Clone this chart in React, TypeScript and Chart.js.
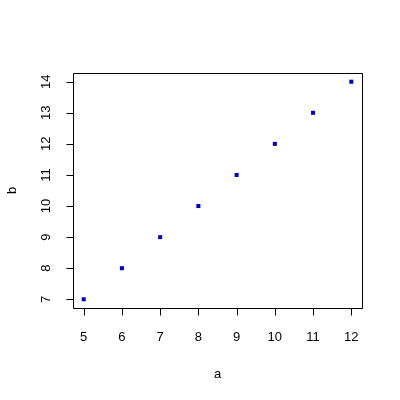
import React, { useEffect, useRef } from "react";
import { Chart, registerables } from "chart.js";

Chart.register(...registerables);

const aValues = [5, 6, 7, 8, 9, 10, 11, 12];
const bValues = [7, 8, 9, 10, 11, 12, 13, 14];
const xTicks = [5, 6, 7, 8, 9, 10, 11, 12];
const yTicks = [7, 8, 9, 10, 11, 12, 13, 14];
const xTitle = "a";
const yTitle = "b";

const FONT = '13px "Liberation Sans", Arial, sans-serif';

const rAxesPlugin = {
  id: "rAxes",
  afterDraw(chart: any) {
    const { ctx, chartArea } = chart;
    const xs = chart.scales.x;
    const ys = chart.scales.y;
    const { left, right, top, bottom } = chartArea;
    const tick = 7;
    ctx.save();
    ctx.strokeStyle = "#000";
    ctx.lineWidth = 1;
    ctx.beginPath();
    ctx.rect(Math.round(left) + 0.5, Math.round(top) + 0.5, Math.round(right - left), Math.round(bottom - top));
    ctx.stroke();
    ctx.fillStyle = "#000";
    ctx.font = FONT;
    // x ticks
    ctx.textAlign = "center";
    ctx.textBaseline = "middle";
    ctx.beginPath();
    for (const v of xTicks) {
      const px = Math.round(xs.getPixelForValue(v)) + 0.5;
      ctx.moveTo(px, Math.round(bottom) + 0.5);
      ctx.lineTo(px, Math.round(bottom) + 0.5 + tick);
    }
    for (const v of yTicks) {
      const py = Math.round(ys.getPixelForValue(v)) + 0.5;
      ctx.moveTo(Math.round(left) + 0.5, py);
      ctx.lineTo(Math.round(left) + 0.5 - tick, py);
    }
    ctx.stroke();
    for (const v of xTicks) {
      const px = xs.getPixelForValue(v);
      ctx.fillText(String(v), px, bottom + 29);
    }
    for (const v of yTicks) {
      const py = ys.getPixelForValue(v);
      ctx.save();
      ctx.translate(left - 27, py);
      ctx.rotate(-Math.PI / 2);
      ctx.fillText(String(v), 0, 0);
      ctx.restore();
    }
    // titles
    ctx.fillText(xTitle, (left + right) / 2, bottom + 66);
    ctx.save();
    ctx.translate(left - 61, (top + bottom) / 2);
    ctx.rotate(-Math.PI / 2);
    ctx.fillText(yTitle, 0, 0);
    ctx.restore();
    ctx.restore();
  },
};

export default function App() {
  const ref = useRef<HTMLCanvasElement>(null);
  useEffect(() => {
    if (!ref.current) return;
    const chart = new Chart(ref.current, {
      type: "scatter",
      data: {
        datasets: [
          {
            data: aValues.map((a, i) => ({ x: a, y: bValues[i] })),
            backgroundColor: "#0000CC",
            borderWidth: 0,
            pointStyle: "rect",
            pointRadius: 2.85,
          },
        ],
      },
      options: {
        animation: false,
        responsive: false,
        events: [],
        layout: { padding: { left: 73, top: 73, right: 38, bottom: 92 } },
        plugins: { legend: { display: false }, tooltip: { enabled: false } },
        scales: {
          x: { type: "linear", display: false, min: 4.72, max: 12.28 },
          y: { type: "linear", display: false, min: 6.72, max: 14.28 },
        },
      },
      plugins: [rAxesPlugin],
    });
    return () => chart.destroy();
  }, []);
  return (
    <div style={{ position: "fixed", left: 0, top: 0, width: 400, height: 400, background: "#fff" }}>
      <canvas ref={ref} width={400} height={400} style={{ width: 400, height: 400 }} />
    </div>
  );
}
